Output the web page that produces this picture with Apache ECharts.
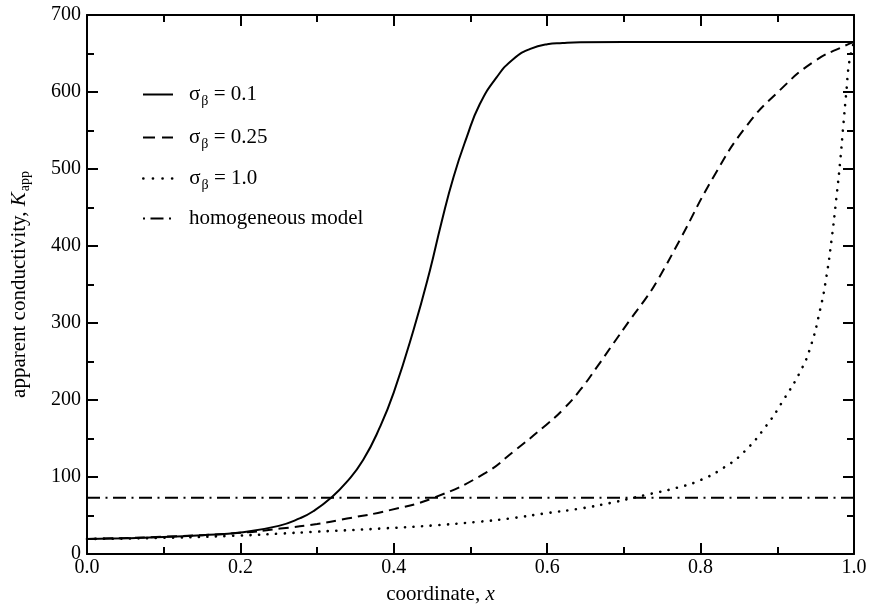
<!DOCTYPE html>
<html>
<head>
<meta charset="utf-8">
<script src="https://cdn.jsdelivr.net/npm/echarts@6/dist/echarts.min.js"></script>
<style>
  html, body { margin: 0; padding: 0; background: #fff; }
  #chart { width: 869px; height: 606px; }
</style>
</head>
<body>
<div id="chart"></div>
<script>
// Apparent conductivity profiles along the coordinate x
const xSolid = [0, 0.05, 0.1, 0.15, 0.2, 0.25, 0.278, 0.295, 0.317, 0.339, 0.36, 0.382, 0.4, 0.426, 0.447, 0.462, 0.478, 0.495, 0.512, 0.534, 0.556, 0.578, 0.6, 0.62, 0.643, 0.7, 0.8, 0.9, 1.0];
const kSolid = [19.5, 20.5, 22, 24.5, 28, 36.5, 46.5, 55.5, 72, 94, 122, 165, 210, 292, 368, 430, 490, 541, 584, 619, 643, 656, 662, 663.5, 664.5, 665, 665, 665, 665];

const xDash = [0, 0.1, 0.2, 0.252, 0.3, 0.339, 0.395, 0.452, 0.519, 0.556, 0.599, 0.621, 0.643, 0.665, 0.686, 0.708, 0.73, 0.743, 0.773, 0.817, 0.86, 0.903, 0.947, 0.99, 1.0];
const kDash = [19.5, 22.5, 27.5, 33, 39, 46, 57, 73, 105, 133, 168, 188, 213, 243, 273, 304, 334, 354, 408, 490, 556, 602, 639, 661, 665];

const xDot = [0, 0.1, 0.2, 0.252, 0.3, 0.382, 0.45, 0.512, 0.55, 0.599, 0.643, 0.686, 0.708, 0.73, 0.769, 0.8, 0.83, 0.856, 0.886, 0.908, 0.93, 0.943, 0.956, 0.964, 0.971, 0.977, 0.982, 0.986, 0.99, 0.994, 1.0];
const kDot = [19.5, 21, 24, 26.5, 29, 33, 37, 42, 46, 53, 59, 67, 72, 77, 86, 96, 112, 132, 167, 200, 237, 268, 318, 360, 410, 462, 510, 556, 600, 640, 665];

const xHom = [0, 1];
const kHom = [73, 73];

const seriesNames = ['σβ = 0.1', 'σβ = 0.25', 'σβ = 1.0', 'homogeneous model'];
const legendTexts = [
  '{g|σ}{sb|β}{g| = 0.1}',
  '{g|σ}{sb|β}{g| = 0.25}',
  '{g|σ}{sb|β}{g| = 1.0}',
  '{g|homogeneous model}'
];

const xTicks = { min: 0, max: 1, interval: 0.2 };
const yTicks = { min: 0, max: 700, interval: 100 };

const FONT = '"Liberation Serif", "DejaVu Serif", serif';
const pairs = (xs, ys) => xs.map((x, i) => [x, ys[i]]);

const dashDot = [13, 5.5, 2, 5.5];
const lineStyles = [
  { type: 'solid', width: 2 },
  { type: [10, 6], width: 2 },
  { type: [0.1, 8.5], width: 2.6, cap: 'round' },
  { type: dashDot, width: 2 }
];
const legendLineStyles = [
  { type: 'solid', width: 2, color: '#000' },
  { type: [12, 7], width: 2, color: '#000' },
  { type: [0.1, 9.5], width: 2.6, cap: 'round', color: '#000' },
  { type: dashDot, dashOffset: 18.5, width: 2, color: '#000' }
];
const legendTops = [81, 124, 165, 208];

const richText = {
  g: { fontFamily: FONT, fontSize: 21, color: '#000', lineHeight: 24 },
  sb: { fontFamily: FONT, fontSize: 14, color: '#000', lineHeight: 14, padding: [13, 0, 0, 1] }
};

const baseAxisLine = { show: true, onZero: false, lineStyle: { color: '#000', width: 2 } };
const tickStyle = { show: true, inside: true, length: 11, lineStyle: { color: '#000', width: 2 } };
const minorStyle = { show: true, splitNumber: 2, length: 7, lineStyle: { color: '#000', width: 2 } };

const chart = echarts.init(document.getElementById('chart'), null, { renderer: 'canvas' });

chart.setOption({
  backgroundColor: '#fff',
  animation: false,
  grid: { left: 87, right: 15, top: 15, bottom: 52, containLabel: false, outerBoundsMode: 'none' },
  legend: seriesNames.map((name, i) => ({
    data: [{ name: name, lineStyle: legendLineStyles[i], itemStyle: { opacity: 0 } }],
    orient: 'vertical',
    left: 142,
    top: legendTops[i],
    itemWidth: 30,
    itemHeight: 14,
    padding: 0,
    selectedMode: false,
    formatter: () => legendTexts[i],
    textStyle: { rich: richText, padding: [0, 0, 0, 11] }
  })),
  xAxis: [
    {
      type: 'value', position: 'bottom', ...xTicks,
      axisLine: baseAxisLine, axisTick: tickStyle, minorTick: minorStyle,
      splitLine: { show: false },
      axisLabel: {
        color: '#000', fontFamily: FONT, fontSize: 20, margin: 4,
        formatter: v => v.toFixed(1)
      },
      name: '{t|coordinate, }{i|x}',
      nameLocation: 'middle',
      nameGap: 30,
      nameTextStyle: {
        padding: [0, 60, 0, 0],
        rich: {
          t: { fontFamily: FONT, fontSize: 21, color: '#000' },
          i: { fontFamily: FONT, fontSize: 21, color: '#000', fontStyle: 'italic' }
        }
      }
    },
    {
      type: 'value', position: 'top', ...xTicks,
      axisLine: baseAxisLine, axisTick: tickStyle, minorTick: minorStyle,
      splitLine: { show: false }, axisLabel: { show: false }
    }
  ],
  yAxis: [
    {
      type: 'value', position: 'left', ...yTicks,
      axisLine: baseAxisLine, axisTick: tickStyle, minorTick: minorStyle,
      splitLine: { show: false },
      axisLabel: { color: '#000', fontFamily: FONT, fontSize: 20, margin: 6 },
      name: '{t|apparent conductivity, }{k|K}{s|app}',
      nameLocation: 'middle',
      nameRotate: 90,
      nameGap: 56,
      nameTextStyle: {
        rich: {
          t: { fontFamily: FONT, fontSize: 21, color: '#000', lineHeight: 24 },
          k: { fontFamily: FONT, fontSize: 21, color: '#000', fontStyle: 'italic', lineHeight: 24 },
          s: { fontFamily: FONT, fontSize: 14, color: '#000', lineHeight: 14, padding: [13, 0, 0, 1] }
        }
      }
    },
    {
      type: 'value', position: 'right', ...yTicks,
      axisLine: baseAxisLine, axisTick: tickStyle, minorTick: minorStyle,
      splitLine: { show: false }, axisLabel: { show: false }
    }
  ],
  series: [
    { name: seriesNames[0], data: pairs(xSolid, kSolid) },
    { name: seriesNames[1], data: pairs(xDash, kDash) },
    { name: seriesNames[2], data: pairs(xDot, kDot) },
    { name: seriesNames[3], data: pairs(xHom, kHom), smooth: false }
  ].map((s, i) => Object.assign({
    type: 'line',
    xAxisIndex: 0,
    yAxisIndex: 0,
    showSymbol: false,
    symbol: 'none',
    smooth: 0.5,
    clip: true,
    lineStyle: Object.assign({ color: '#000' }, lineStyles[i]),
    itemStyle: { color: '#000' },
    emphasis: { disabled: true }
  }, s))
});
</script>
</body>
</html>
